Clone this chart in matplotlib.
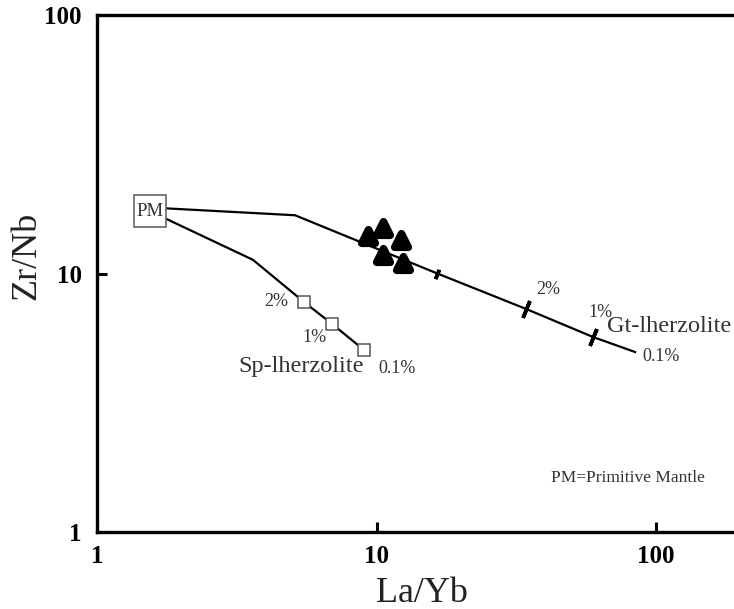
import matplotlib.pyplot as plt
from matplotlib.markers import MarkerStyle

# primitive mantle starting composition
pm_x = 1.55
pm_y = 17.4

# melting curves (La/Yb, Zr/Nb)
gt_x = [1.55, 5.11, 16.5, 34.3, 59.5, 84.1]
gt_y = [18.0, 16.8, 10.0, 7.29, 5.68, 4.97]
sp_x = [1.55, 3.61, 5.50, 6.93, 9.02]
sp_y = [17.4, 11.3, 7.76, 6.38, 5.06]

# degree-of-melting marks
sp_mark_x = [5.50, 6.93, 9.02]
sp_mark_y = [7.76, 6.38, 5.06]
sp_mark_labels = ['2%', '1%', '0.1%']
gt_bar_x = [16.5, 34.3, 59.5]
gt_bar_y = [10.0, 7.29, 5.68]
gt_bar_size = [7, 13, 13]

# samples
sample_x = [9.32, 10.55, 12.24, 10.55, 12.44]
sample_y = [13.97, 15.0, 13.48, 11.79, 10.98]

plt.rcParams['font.family'] = ['Liberation Serif', 'DejaVu Serif']

fig = plt.figure(figsize=(7.34, 6.09), dpi=100)
ax = fig.add_axes([0.1322, 0.1264, 0.8678, 0.849])
ax.set_xscale('log')
ax.set_yscale('log')
ax.set_xlim(1, 190)
ax.set_ylim(1, 100)

# curves
ax.plot(gt_x, gt_y, color='black', lw=1.6, zorder=2)
ax.plot(sp_x, sp_y, color='black', lw=1.6, zorder=2)

# short bars across the garnet curve
for bx, by, s in zip(gt_bar_x, gt_bar_y, gt_bar_size):
    ax.plot(bx, by, marker=(2, 2, -22), markersize=s, mew=2.6,
            color='black', zorder=3)

# squares on spinel curve
ax.plot(sp_mark_x, sp_mark_y, 's', markersize=9, mfc='white', mec='#555555',
        mew=1.1, zorder=4)

# samples: rounded filled triangles
tri = MarkerStyle('^', joinstyle='round')
ax.scatter(sample_x, sample_y, marker=tri, s=95, c='black',
           edgecolors='black', linewidths=5.5, zorder=5)

# PM box
ax.plot(pm_x, pm_y, 's', markersize=23, mfc='white', mec='#666666',
        mew=1.2, zorder=6)
ax.text(pm_x, pm_y, 'PM', ha='center', va='center', fontsize=13.5,
        color='#333333', zorder=7)

# labels on spinel curve
txt = dict(textcoords='offset points', ha='center', va='center',
           color='#333333', fontsize=13)
ax.annotate(sp_mark_labels[0], (sp_mark_x[0], sp_mark_y[0]), xytext=(-20, 0), **txt)
ax.annotate(sp_mark_labels[1], (sp_mark_x[1], sp_mark_y[1]), xytext=(-13, -10), **txt)
ax.annotate(sp_mark_labels[2], (sp_mark_x[2], sp_mark_y[2]), xytext=(24, -13), **txt)
ax.annotate('Sp-lherzolite', (sp_mark_x[2], sp_mark_y[2]), xytext=(-45, -12),
            textcoords='offset points', ha='center', va='center',
            color='#333333', fontsize=17.5)

# labels on garnet curve
ax.annotate('2%', (gt_bar_x[1], gt_bar_y[1]), xytext=(16, 14), **txt)
ax.annotate('1%', (gt_bar_x[2], gt_bar_y[2]), xytext=(5, 18), **txt)
ax.annotate('Gt-lherzolite', (gt_x[-1], gt_y[-1]), xytext=(-20, 18),
            textcoords='offset points', ha='left', va='center',
            color='#333333', fontsize=17.5)
ax.annotate('0.1%', (gt_x[-1], gt_y[-1]), xytext=(5, -3.5),
            textcoords='offset points', ha='left', va='center',
            color='#333333', fontsize=13)

ax.text(0.834, 0.104, 'PM=Primitive Mantle', transform=ax.transAxes,
        ha='center', va='center', fontsize=12.5, color='#333333')

# axes styling
ax.spines['right'].set_visible(False)
for side in ['left', 'bottom', 'top']:
    ax.spines[side].set_linewidth(2.4)
ax.set_xticks([1, 10, 100])
ax.set_yticks([1, 10, 100])
ax.set_xticklabels(['1', '10', '100'])
ax.set_yticklabels(['1', '10', '100'])
ax.minorticks_off()
ax.tick_params(direction='in', length=7, width=2.2, labelsize=18, top=False)
ax.tick_params(axis='x', pad=9)
ax.tick_params(axis='y', pad=11)
for lab in ax.get_xticklabels() + ax.get_yticklabels():
    lab.set_fontweight('bold')

fig.text(0.037, 1 - 256 / 609, 'Zr/Nb', rotation=90, ha='center',
         va='center', fontsize=26, color='#222222')
fig.text(422 / 734, 1 - 593 / 609, 'La/Yb', ha='center', va='center',
         fontsize=26, color='#222222')

fig.savefig('out.png', dpi=100)
